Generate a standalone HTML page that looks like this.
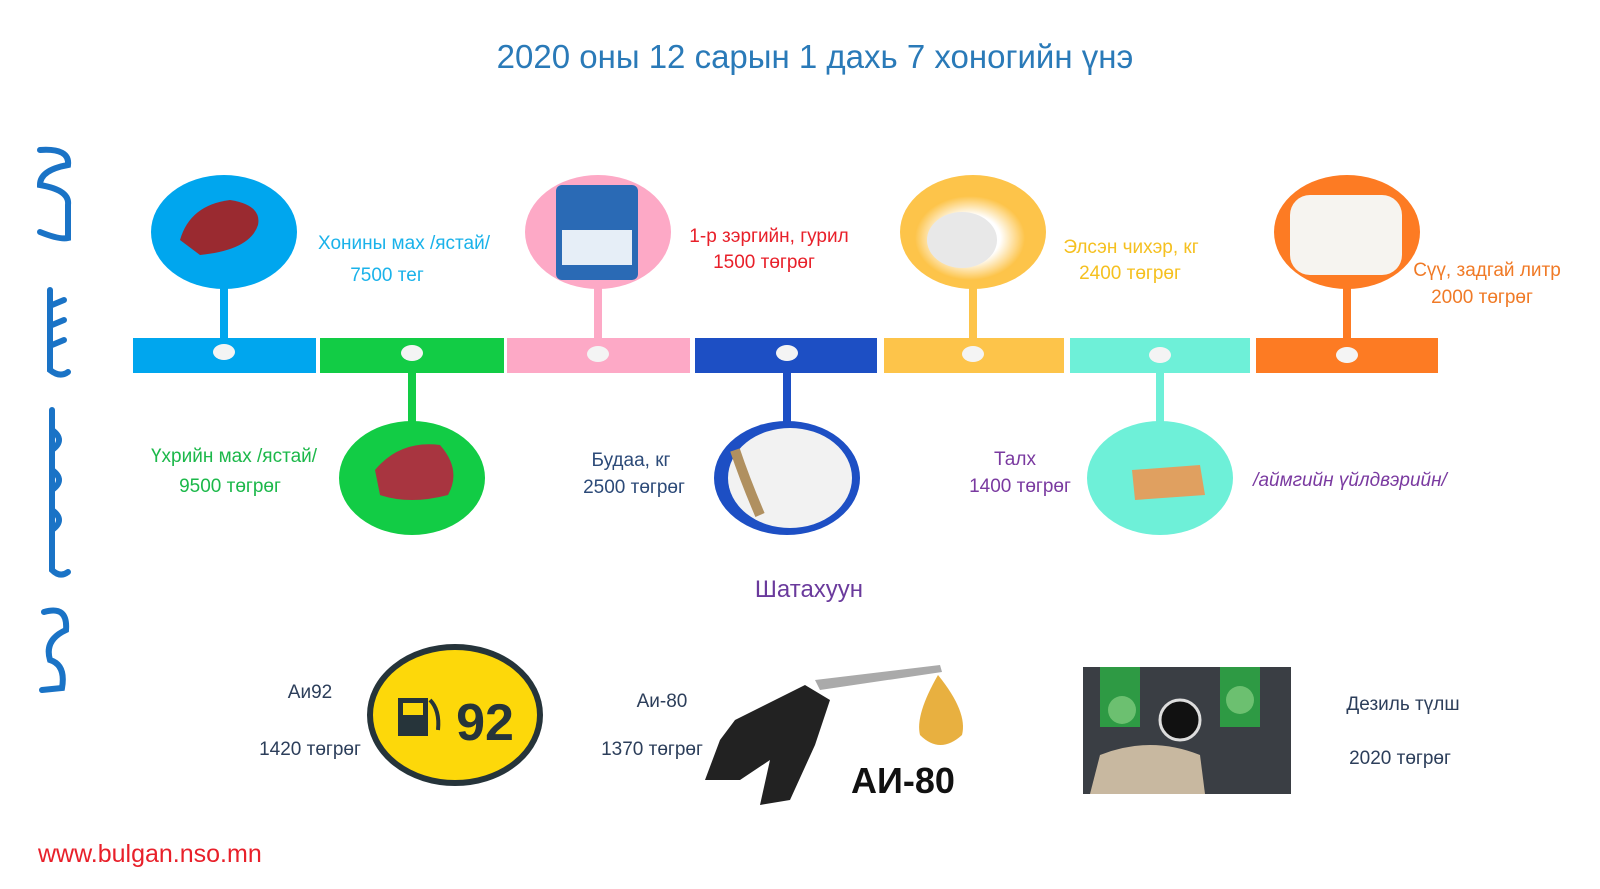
<!DOCTYPE html>
<html><head><meta charset="utf-8"><style>
html,body{margin:0;padding:0;background:#fff;}
svg{display:block;}
text{font-family:"Liberation Sans",sans-serif;}
</style></head><body>
<svg width="1600" height="889" viewBox="0 0 1600 889" xmlns="http://www.w3.org/2000/svg">
<defs>
<radialGradient id="rb" cx="50%" cy="50%" r="50%"><stop offset="55%" stop-color="#fff"/><stop offset="100%" stop-color="#fff" stop-opacity="0"/></radialGradient>
</defs>
<text x="815" y="68" font-size="33" fill="#2a7ab8" text-anchor="middle">2020 оны 12 сарын 1 дахь 7 хоногийн  үнэ</text>

<g fill="none" stroke="#1a73c6" stroke-width="6" stroke-linecap="round">
<path d="M40 150 Q70 148 68 165 Q40 170 40 185 Q70 190 68 205 L68 238 Q60 240 40 232"/>
<path d="M50 290 L50 370 Q60 378 68 372 M52 305 L64 300 M52 325 L64 320 M52 345 L64 340"/>
<path d="M52 410 L52 570 Q60 578 68 572 M52 430 Q66 440 52 450 M52 470 Q66 480 52 490 M52 510 Q66 520 52 530"/>
<path d="M44 612 Q68 605 66 630 Q44 640 50 660 Q66 665 62 688 L42 690"/>
</g>

<rect x="133" y="338" width="183" height="35" fill="#00a6ee"/>
<rect x="320" y="338" width="184" height="35" fill="#12cc45"/>
<rect x="507" y="338" width="183" height="35" fill="#fda9c6"/>
<rect x="695" y="338" width="182" height="35" fill="#1d4fc4"/>
<rect x="884" y="338" width="180" height="35" fill="#fdc44a"/>
<rect x="1070" y="338" width="180" height="35" fill="#6ef0d8"/>
<rect x="1256" y="338" width="182" height="35" fill="#fd7b23"/>

<rect x="220" y="285" width="8" height="55" fill="#00a6ee"/>
<rect x="408" y="370" width="8" height="55" fill="#12cc45"/>
<rect x="594" y="285" width="8" height="55" fill="#fda9c6"/>
<rect x="783" y="370" width="8" height="55" fill="#1d4fc4"/>
<rect x="969" y="285" width="8" height="55" fill="#fdc44a"/>
<rect x="1156" y="370" width="8" height="55" fill="#6ef0d8"/>
<rect x="1343" y="285" width="8" height="55" fill="#fd7b23"/>

<g fill="#f4f4f4">
<ellipse cx="224" cy="352" rx="11" ry="8"/><ellipse cx="412" cy="353" rx="11" ry="8"/>
<ellipse cx="598" cy="354" rx="11" ry="8"/><ellipse cx="787" cy="353" rx="11" ry="8"/>
<ellipse cx="973" cy="354" rx="11" ry="8"/><ellipse cx="1160" cy="355" rx="11" ry="8"/>
<ellipse cx="1347" cy="355" rx="11" ry="8"/>
</g>

<ellipse cx="224" cy="232" rx="73" ry="57" fill="#00a6ee"/>
<path d="M180 240 Q190 205 230 200 Q262 205 258 225 Q250 250 200 255 Z" fill="#9a2a30"/>
<ellipse cx="598" cy="232" rx="73" ry="57" fill="#fda9c6"/>
<rect x="556" y="185" width="82" height="95" rx="6" fill="#2a6ab5"/>
<rect x="562" y="230" width="70" height="35" fill="#e6eef7"/>
<ellipse cx="973" cy="232" rx="73" ry="57" fill="#fdc44a"/>
<ellipse cx="970" cy="238" rx="55" ry="42" fill="url(#rb)"/>
<ellipse cx="962" cy="240" rx="35" ry="28" fill="#e8e8e8"/>
<ellipse cx="1347" cy="232" rx="73" ry="57" fill="#fd7b23"/>
<rect x="1290" y="195" width="112" height="80" rx="20" fill="#f6f4f0"/>

<ellipse cx="412" cy="478" rx="73" ry="57" fill="#12cc45"/>
<path d="M375 470 Q400 440 440 445 Q462 470 448 495 Q410 505 380 495 Z" fill="#a83540"/>
<ellipse cx="787" cy="478" rx="73" ry="57" fill="#1d4fc4"/>
<ellipse cx="790" cy="478" rx="62" ry="50" fill="#f2f2f2"/>
<path d="M735 450 Q745 480 760 515" stroke="#b09060" stroke-width="10" fill="none"/>
<ellipse cx="1160" cy="478" rx="73" ry="57" fill="#6ef0d8"/>
<path d="M1132 470 L1200 465 L1205 495 L1135 500 Z" fill="#e0a060"/>

<g font-size="19" text-anchor="middle">
<text x="404" y="249" fill="#1ab2ea">Хонины мах /ястай/</text>
<text x="387" y="281" fill="#1ab2ea">7500 тег</text>
<text x="769" y="242" fill="#e8202a">1-р зэргийн, гурил</text>
<text x="764" y="268" fill="#e8202a">1500 төгрөг</text>
<text x="1131" y="253" fill="#f5c020">Элсэн чихэр, кг</text>
<text x="1130" y="279" fill="#f5c020">2400 төгрөг</text>
<text x="1487" y="276" fill="#f07a26">Сүү, задгай литр</text>
<text x="1482" y="303" fill="#f07a26">2000 төгрөг</text>
<text x="234" y="462" fill="#1cb84a">Үхрийн мах /ястай/</text>
<text x="230" y="492" fill="#1cb84a">9500 төгрөг</text>
<text x="631" y="466" fill="#2c4a78">Будаа, кг</text>
<text x="634" y="493" fill="#2c4a78">2500 төгрөг</text>
<text x="1015" y="465" fill="#7a3aa0">Талх</text>
<text x="1020" y="492" fill="#7a3aa0">1400 төгрөг</text>
<text x="1350" y="486" fill="#7a3aa0" font-style="italic">/аймгийн үйлдвэрийн/</text>
</g>
<text x="809" y="597" font-size="24" fill="#6a3a9c" text-anchor="middle">Шатахуун</text>

<g font-size="19" fill="#2c3e5a" text-anchor="middle">
<text x="310" y="698">Аи92</text>
<text x="310" y="755">1420 төгрөг</text>
<text x="662" y="707">Аи-80</text>
<text x="652" y="755">1370 төгрөг</text>
<text x="1403" y="710">Дезиль түлш</text>
<text x="1400" y="764">2020 төгрөг</text>
</g>

<ellipse cx="455" cy="715" rx="85" ry="68" fill="#fdd80a" stroke="#26343a" stroke-width="6"/>
<rect x="398" y="698" width="30" height="38" fill="#26343a"/>
<rect x="403" y="703" width="20" height="12" fill="#fdd80a"/>
<path d="M430 700 Q440 710 438 730" stroke="#26343a" stroke-width="4" fill="none"/>
<text x="485" y="740" font-size="52" font-weight="bold" fill="#26343a" text-anchor="middle">92</text>

<path d="M815 680 L940 665 L942 672 L820 690 Z" fill="#aaa"/>
<path d="M735 720 L805 685 L830 700 L815 745 L790 800 L760 805 L770 760 L740 780 L705 780 L720 740 Z" fill="#222"/>
<path d="M938 675 Q915 715 920 735 Q940 755 962 735 Q968 712 938 675 Z" fill="#e8b040"/>
<text x="903" y="793" font-size="36" font-weight="bold" fill="#111" text-anchor="middle">АИ-80</text>

<rect x="1083" y="667" width="208" height="127" fill="#3a3e44"/>
<rect x="1100" y="667" width="40" height="60" fill="#2e9a44"/>
<rect x="1220" y="667" width="40" height="60" fill="#2e9a44"/>
<circle cx="1122" cy="710" r="14" fill="#6cc070"/>
<circle cx="1240" cy="700" r="14" fill="#6cc070"/>
<circle cx="1180" cy="720" r="20" fill="#111" stroke="#ddd" stroke-width="3"/>
<path d="M1090 794 L1100 755 Q1150 735 1200 755 L1205 794 Z" fill="#c8b8a0"/>

<text x="38" y="862" font-size="25" fill="#e8202a">www.bulgan.nso.mn</text>
</svg>
</body></html>
